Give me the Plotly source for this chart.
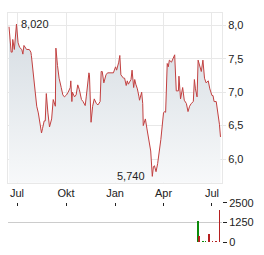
import plotly.graph_objects as go

price_dates = [
    "2023-06-16", "2023-06-20", "2023-06-22", "2023-06-23", "2023-06-26", "2023-06-30",
    "2023-07-03", "2023-07-06", "2023-07-10", "2023-07-12", "2023-07-14", "2023-07-19",
    "2023-07-24", "2023-07-27", "2023-07-28", "2023-08-02", "2023-08-07", "2023-08-10",
    "2023-08-14", "2023-08-16", "2023-08-18", "2023-08-21", "2023-08-23", "2023-08-25",
    "2023-08-28", "2023-08-31", "2023-09-04", "2023-09-07", "2023-09-11", "2023-09-12",
    "2023-09-15", "2023-09-18", "2023-09-22", "2023-09-25", "2023-09-28", "2023-10-02",
    "2023-10-05", "2023-10-09", "2023-10-10", "2023-10-12", "2023-10-13", "2023-10-17",
    "2023-10-20", "2023-10-23", "2023-10-26", "2023-10-30", "2023-11-02", "2023-11-06",
    "2023-11-08", "2023-11-13", "2023-11-14", "2023-11-17", "2023-11-20", "2023-11-23",
    "2023-11-27", "2023-11-30", "2023-12-04", "2023-12-06", "2023-12-08", "2023-12-11",
    "2023-12-13", "2023-12-15", "2023-12-18", "2023-12-22", "2023-12-29", "2024-01-02",
    "2024-01-04", "2024-01-08", "2024-01-10", "2024-01-12", "2024-01-17", "2024-01-19",
    "2024-01-22", "2024-01-24", "2024-01-26", "2024-01-31", "2024-02-02", "2024-02-05",
    "2024-02-07", "2024-02-09", "2024-02-12", "2024-02-15", "2024-02-16", "2024-02-20",
    "2024-02-22", "2024-02-23", "2024-02-27", "2024-03-01", "2024-03-04", "2024-03-06",
    "2024-03-08", "2024-03-11", "2024-03-13", "2024-03-15", "2024-03-18", "2024-03-21",
    "2024-03-25", "2024-03-27", "2024-04-01", "2024-04-03", "2024-04-05", "2024-04-08",
    "2024-04-10", "2024-04-12", "2024-04-16", "2024-04-19", "2024-04-22", "2024-04-25",
    "2024-04-29", "2024-04-30", "2024-05-03", "2024-05-07", "2024-05-10", "2024-05-14",
    "2024-05-17", "2024-05-20", "2024-05-23", "2024-05-27", "2024-05-29", "2024-05-31",
    "2024-06-03", "2024-06-05", "2024-06-07", "2024-06-11", "2024-06-14", "2024-06-17",
    "2024-06-20", "2024-06-24", "2024-06-27", "2024-07-01", "2024-07-03", "2024-07-05",
    "2024-07-09", "2024-07-12", "2024-07-15", "2024-07-17",
]
price_values = [
    7.98, 7.60, 7.60, 7.79, 7.64, 8.02,
    7.74, 7.67, 7.64, 7.57, 7.70, 7.64,
    7.64, 7.60, 7.55, 7.12, 6.79, 6.69,
    6.46, 6.39, 6.46, 6.57, 6.57, 6.98,
    6.69, 6.48, 6.60, 6.89, 6.79, 7.66,
    7.40, 7.21, 7.07, 6.96, 6.93, 6.96,
    7.00, 7.07, 7.17, 6.86, 7.00, 6.93,
    6.96, 7.11, 7.04, 6.89, 6.86, 6.80,
    6.93, 7.29, 7.26, 6.55, 6.79, 6.90,
    6.83, 6.81, 6.86, 7.31, 7.31, 7.14,
    7.21, 7.26, 7.29, 7.29, 7.29, 7.38,
    7.33, 7.45, 7.55, 7.26, 7.21, 7.21,
    7.10, 7.17, 7.12, 7.19, 7.33, 7.07,
    7.19, 7.12, 7.05, 6.93, 6.88, 7.00,
    6.83, 6.50, 6.60, 6.45, 6.33, 6.21,
    6.12, 5.74, 5.88, 5.90, 5.81, 5.93,
    6.17, 6.29, 6.69, 6.71, 6.70, 7.43,
    7.38, 7.48, 7.45, 7.50, 7.56, 7.02,
    7.02, 7.24, 6.90, 7.07, 6.88, 6.83,
    6.71, 6.79, 6.83, 6.86, 7.19, 7.05,
    6.93, 7.48, 7.43, 7.31, 7.48, 7.21,
    7.14, 7.17, 7.05, 6.95, 6.95, 6.86,
    6.86, 6.71, 6.52, 6.33,
]

vol_dates = ["2024-06-05", "2024-06-07", "2024-06-14", "2024-06-19",
             "2024-06-26", "2024-07-02", "2024-07-08", "2024-07-15"]
vol_values = [1375, 370, 60, 60, 500, 40, 40, 2060]
vol_direction = ["up", "down", "up", "up", "down", "down", "down", "down"]

month_ticks = ["2023-07-01", "2023-10-01", "2024-01-01", "2024-04-01", "2024-07-01"]
month_labels = ["Jul", "Okt", "Jan", "Apr", "Jul"]
price_ticks = [6.0, 6.5, 7.0, 7.5, 8.0]
vol_ticks = [0, 1250, 2500]

x_range = ["2023-06-14 02:00", "2024-07-19 20:00"]
FONT = "Liberation Sans, Arial, sans-serif"
TXT = "#222222"
GRID = "#e8e8e8"

fig = go.Figure()
fig.add_trace(go.Scatter(
    x=price_dates, y=price_values, mode="lines",
    line=dict(color="#c24040", width=1),
    fill="tozeroy",
    fillgradient=dict(type="vertical", start=5.64, stop=8.05,
                      colorscale=[[0, "#f9fafb"], [1, "#d5dce2"]]),
    xaxis="x", yaxis="y", hoverinfo="skip", showlegend=False,
))

up_col, down_col = "#0b8a0b", "#b52020"
fig.add_trace(go.Bar(
    x=vol_dates, y=vol_values,
    marker=dict(color=[up_col if d == "up" else down_col for d in vol_direction], line_width=0),
    width=1.6 * 86400000,
    xaxis="x2", yaxis="y2", hoverinfo="skip", showlegend=False,
))

i_max = max(range(len(price_values)), key=lambda i: price_values[i])
i_min = min(range(len(price_values)), key=lambda i: price_values[i])
fmt = lambda v: f"{v:.3f}".replace(".", ",")
fig.add_annotation(x=price_dates[i_max], y=price_values[i_max], xref="x", yref="y",
                   text=fmt(price_values[i_max]), showarrow=False, xanchor="left",
                   xshift=3, font=dict(family=FONT, size=11, color=TXT))
fig.add_annotation(x=price_dates[i_min], y=price_values[i_min], xref="x", yref="y",
                   text=fmt(price_values[i_min]), showarrow=False, xanchor="right",
                   xshift=-5, font=dict(family=FONT, size=11, color=TXT))

fig.update_layout(
    width=264, height=255,
    margin=dict(l=8, r=42, t=7, b=8),
    paper_bgcolor="white", plot_bgcolor="white",
    separators=",.",
    font=dict(family=FONT, size=11, color=TXT),
    xaxis=dict(domain=[0, 1], range=x_range, type="date",
               tickvals=month_ticks, ticktext=month_labels,
               showgrid=True, gridcolor=GRID, gridwidth=1,
               ticks="", showline=True, linecolor=GRID, mirror=True,
               zeroline=False, tickfont=dict(size=11, color=TXT)),
    yaxis=dict(domain=[0.2583, 1], range=[5.643, 8.186], side="right",
               tickvals=price_ticks, tickformat=".1f",
               showgrid=True, gridcolor=GRID, gridwidth=1,
               ticks="outside", ticklen=3, tickcolor=GRID,
               showline=True, linecolor=GRID, mirror=True, zeroline=False,
               tickfont=dict(size=11, color=TXT)),
    xaxis2=dict(domain=[0, 1], range=x_range, type="date", anchor="y2",
                side="top", tickvals=month_ticks, showticklabels=False,
                ticks="inside", ticklen=3, tickcolor="#222222",
                showgrid=False, showline=False, zeroline=False),
    yaxis2=dict(domain=[0, 0.171], range=[0, 2500], side="right", anchor="x2",
                tickvals=vol_ticks, showgrid=True, gridcolor="#cccccc", gridwidth=1,
                ticks="outside", ticklen=4, tickcolor="#222222",
                showline=False, zeroline=False,
                tickfont=dict(size=11, color=TXT)),
    bargap=0,
)

fig.write_html("out.html")
